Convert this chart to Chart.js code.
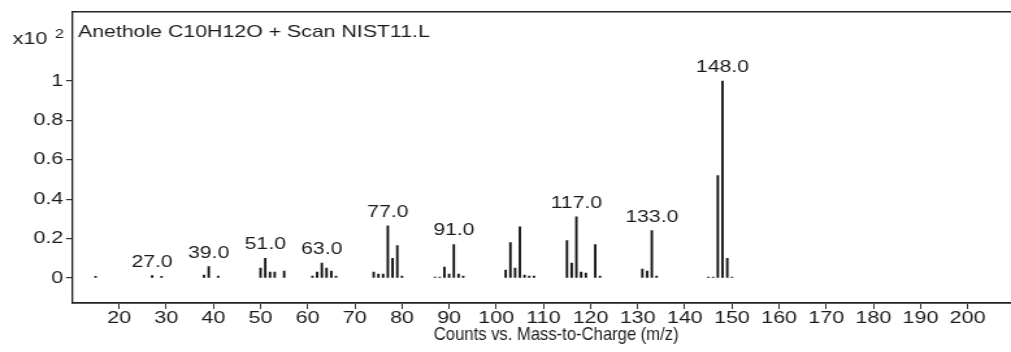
<!DOCTYPE html>
<html>
<head>
<meta charset="utf-8">
<script src="https://cdn.jsdelivr.net/npm/chart.js@4/dist/chart.umd.min.js"></script>
<style>
  html, body { margin: 0; padding: 0; background: #fff; overflow: hidden; }
  /* the spectrum is laid out on a narrower canvas and widened to the page */
  #wrap { width: 778px; height: 352px; transform: scaleX(1.2995); transform-origin: 0 0; }
</style>
</head>
<body>
<div id="wrap"><canvas id="spectrum" width="778" height="352"></canvas></div>
<script>
// Mass spectrum of anethole: m/z values and relative abundance (x10^2 counts)
const mzValues = [
  15, 27, 29, 38, 39, 41,
  50, 51, 52, 53, 55,
  61, 62, 63, 64, 65, 66,
  74, 75, 76, 77, 78, 79, 80,
  87, 88, 89, 90, 91, 92, 93,
  102, 103, 104, 105, 106, 107, 108,
  115, 116, 117, 118, 119, 121, 122,
  131, 132, 133, 134,
  145, 146, 147, 148, 149, 150
];
const intensities = [
  0.008, 0.012, 0.008, 0.015, 0.058, 0.01,
  0.05, 0.10, 0.03, 0.03, 0.035,
  0.01, 0.03, 0.075, 0.05, 0.035, 0.01,
  0.03, 0.02, 0.02, 0.265, 0.10, 0.165, 0.01,
  0.005, 0.005, 0.055, 0.02, 0.17, 0.02, 0.01,
  0.04, 0.18, 0.05, 0.26, 0.015, 0.01, 0.01,
  0.19, 0.075, 0.31, 0.03, 0.025, 0.17, 0.01,
  0.045, 0.035, 0.24, 0.01,
  0.004, 0.004, 0.52, 1.0, 0.10, 0.005
];
// peaks whose m/z is printed above the line
const labelledPeaks = [27, 39, 51, 63, 77, 91, 117, 133, 148];

const xTickValues = [20, 30, 40, 50, 60, 70, 80, 90, 100, 110, 120, 130, 140, 150, 160, 170, 180, 190, 200];
const yTickValues = [0, 0.2, 0.4, 0.6, 0.8, 1];
const yTickLabels = ['0', '0.2', '0.4', '0.6', '0.8', '1'];

const plotTitle = 'Anethole C10H12O + Scan NIST11.L';
const xAxisTitle = 'Counts vs. Mass-to-Charge (m/z)';
const yMultiplier = 'x10';
const yExponent = '2';

const STRETCH = 1.2995;
const FONT = '"Liberation Sans", Arial, Helvetica, sans-serif';
const INK = '#1a1a1a';

const annotations = {
  id: 'annotations',
  afterDatasetsDraw(chart) {
    const { ctx, chartArea, scales: { x, y } } = chart;
    ctx.save();
    ctx.fillStyle = INK;
    // peak labels
    ctx.font = '16.3px ' + FONT;
    ctx.textAlign = 'center';
    ctx.textBaseline = 'alphabetic';
    labelledPeaks.forEach(m => {
      const v = intensities[mzValues.indexOf(m)];
      ctx.fillText(m.toFixed(1), x.getPixelForValue(m), y.getPixelForValue(v) - 9);
    });
    // title inside the frame
    ctx.textAlign = 'left';
    ctx.font = '16.4px ' + FONT;
    ctx.fillText(plotTitle, chartArea.left + 4.6, chartArea.top + 24.7);
    // y multiplier
    ctx.font = '16.5px ' + FONT;
    ctx.fillText(yMultiplier, 9.8, 43.5);
    ctx.font = '12.5px ' + FONT;
    ctx.fillText(yExponent, 42.3, 38);
    // x axis title, set in a narrow face
    ctx.translate(428, 340);
    ctx.scale(0.875 / STRETCH, 1);
    ctx.textAlign = 'center';
    ctx.font = '19px ' + FONT;
    ctx.fillText(xAxisTitle, 0, 0);
    ctx.restore();
  }
};

new Chart(document.getElementById('spectrum'), {
  type: 'bar',
  data: {
    datasets: [{
      data: mzValues.map((m, i) => ({ x: m, y: intensities[i] })),
      backgroundColor: '#111',
      borderWidth: 0,
      barThickness: 1.2,
      grouped: false
    }]
  },
  options: {
    responsive: false,
    animation: false,
    devicePixelRatio: 1,
    layout: { padding: 0 },
    plugins: { legend: { display: false }, tooltip: { enabled: false } },
    scales: {
      x: {
        type: 'linear',
        position: 'bottom',
        offset: false,
        min: 10,
        max: 209.2,
        afterBuildTicks: s => { s.ticks = xTickValues.map(v => ({ value: v })); },
        afterFit: s => { s.height = 49; },
        ticks: { color: INK, font: { family: FONT, size: 16.5 }, padding: 0, maxRotation: 0, autoSkip: false,
                 callback: v => String(v) },
        grid: { display: true, offset: false, drawOnChartArea: false, drawTicks: true, tickLength: 6, color: '#333', lineWidth: 1 },
        border: { display: true, color: '#222', width: 1.8 }
      },
      xTop: {
        type: 'linear',
        position: 'top',
        offset: false,
        min: 10,
        max: 209.2,
        afterFit: s => { s.height = 12; },
        ticks: { display: false },
        grid: { display: false },
        border: { display: true, color: '#222', width: 1.6 }
      },
      y: {
        type: 'linear',
        position: 'left',
        min: -0.127,
        max: 1.35,
        afterBuildTicks: s => { s.ticks = yTickValues.map(v => ({ value: v })); },
        afterFit: s => { s.width = 55.4; },
        ticks: { color: INK, font: { family: FONT, size: 16.5 }, padding: 2,
                 callback: (v) => yTickLabels[yTickValues.indexOf(v)] ?? '' },
        grid: { display: true, drawOnChartArea: false, drawTicks: true, tickLength: 4.6, color: '#333', lineWidth: 1.2 },
        border: { display: true, color: '#222', width: 1.3 }
      }
    }
  },
  plugins: [annotations]
});
</script>
</body>
</html>
